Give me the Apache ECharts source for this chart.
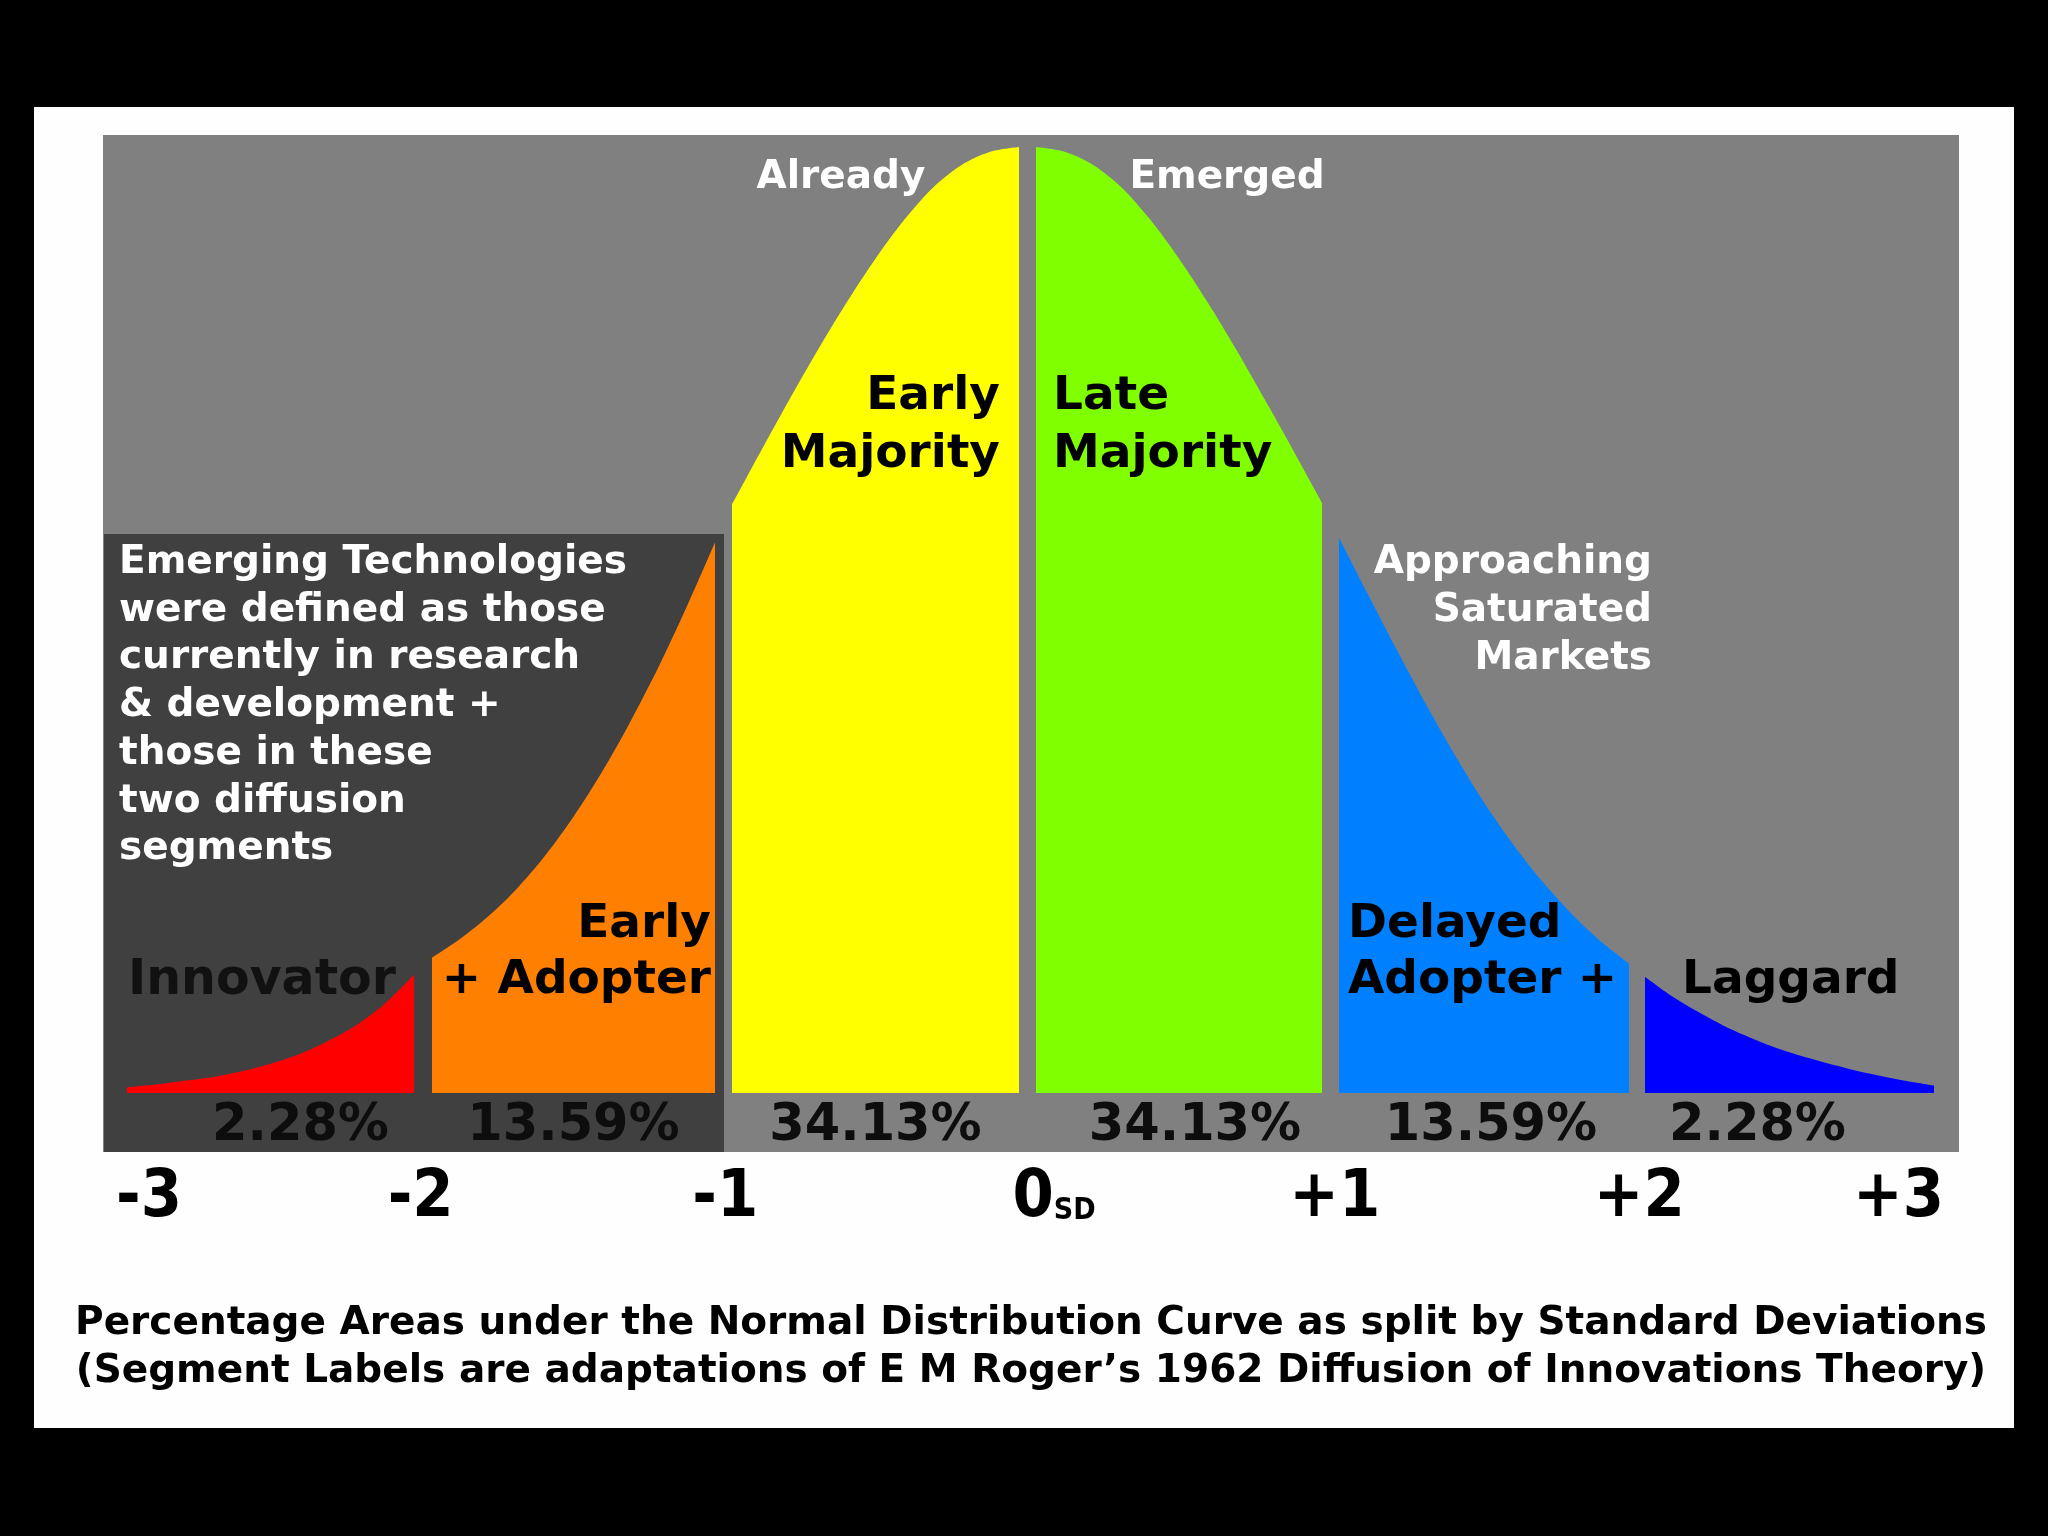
<!DOCTYPE html>
<html>
<head>
<meta charset="utf-8">
<title>Diffusion of Innovations - Normal Curve</title>
<script src="https://cdn.jsdelivr.net/npm/echarts@6/dist/echarts.min.js"></script>
<style>
  html, body { margin: 0; padding: 0; background: #000; }
  #chart { width: 2048px; height: 1536px; }
</style>
</head>
<body>
<div id="chart"></div>
<script>
  // standard deviation tick labels under the curve
  var tickLabels = ['-3', '-2', '-1', '0', '+1', '+2', '+3'];

  // curve height (relative to peak), [sd, height]
  var innovator = [[-3, 0.006], [-2.9, 0.009], [-2.8, 0.013], [-2.7, 0.017], [-2.6, 0.023], [-2.5, 0.031],
    [-2.4, 0.041], [-2.3, 0.055], [-2.2, 0.072], [-2.1, 0.095], [-2, 0.125]];
  var earlyAdopter = [[-2, 0.143], [-1.9, 0.163], [-1.8, 0.187], [-1.7, 0.216], [-1.6, 0.251], [-1.5, 0.292],
    [-1.4, 0.339], [-1.3, 0.392], [-1.2, 0.45], [-1.1, 0.514], [-1, 0.582]];
  var earlyMajority = [[-1, 0.622], [-0.9, 0.678], [-0.8, 0.733], [-0.7, 0.786], [-0.6, 0.836], [-0.5, 0.882],
    [-0.4, 0.923], [-0.3, 0.957], [-0.2, 0.981], [-0.1, 0.995], [0, 1]];
  var lateMajority = [[0, 1], [0.1, 0.995], [0.2, 0.981], [0.3, 0.957], [0.4, 0.923], [0.5, 0.882],
    [0.6, 0.836], [0.7, 0.786], [0.8, 0.733], [0.9, 0.679], [1, 0.624]];
  var delayedAdopter = [[1, 0.587], [1.1, 0.527], [1.2, 0.468], [1.3, 0.411], [1.4, 0.357], [1.5, 0.307],
    [1.6, 0.263], [1.7, 0.224], [1.8, 0.19], [1.9, 0.161], [2, 0.137]];
  var laggard = [[2, 0.123], [2.1, 0.101], [2.2, 0.083], [2.3, 0.067], [2.4, 0.054], [2.5, 0.043],
    [2.6, 0.034], [2.7, 0.026], [2.8, 0.019], [2.9, 0.013], [3, 0.008]];

  var percentages = ['2.28%', '13.59%', '34.13%', '34.13%', '13.59%', '2.28%'];

  var segments = [innovator, earlyAdopter, earlyMajority, lateMajority, delayedAdopter, laggard];
  var colors = ['#ff0000', '#ff8000', '#ffff00', '#80ff00', '#0080ff', '#0000ff'];

  // layout of each segment panel (px)
  var segLeft = [127, 432, 732, 1036, 1339, 1645];
  var segWidth = [287, 283, 287, 286, 290, 289];
  var pctPad = [[0, 0, 0, 60], 0, 0, [0, 0, 0, 32], [0, 0, 0, 14], [0, 64, 0, 0]];

  var font = 'DejaVu Sans, Verdana, sans-serif';
  var condFont = 'DejaVu Sans Condensed, DejaVu Sans, sans-serif';

  var chart = echarts.init(document.getElementById('chart'));

  var grids = [], xAxes = [], yAxes = [], series = [];
  segments.forEach(function (seg, i) {
    grids.push({left: segLeft[i], width: segWidth[i], top: 147, height: 946});
    xAxes.push({
      gridIndex: i, type: 'value', z: 20,
      min: seg[0][0], max: seg[seg.length - 1][0],
      axisLine: {show: false}, axisTick: {show: false},
      axisLabel: {show: false}, splitLine: {show: false},
      name: percentages[i], nameLocation: 'middle', nameGap: 8,
      nameTextStyle: {
        color: '#0d0d0d', fontFamily: font, fontWeight: 'bold', fontSize: 51,
        verticalAlign: 'top', padding: pctPad[i]
      }
    });
    yAxes.push({gridIndex: i, type: 'value', min: 0, max: 1, show: false});
    series.push({
      type: 'line', xAxisIndex: i, yAxisIndex: i, z: 5,
      data: seg, smooth: 0.3, symbol: 'none', silent: true,
      lineStyle: {width: 0},
      areaStyle: {color: colors[i], opacity: 1}
    });
  });

  // the sd scale underneath
  grids.push({left: 116, width: 1828, top: 135, height: 1017});
  xAxes.push({
    gridIndex: 6, type: 'value', min: -3, max: 3, interval: 1, z: 20,
    axisLine: {show: false}, axisTick: {show: false}, splitLine: {show: false},
    axisLabel: {
      margin: 14,
      alignMinLabel: 'left', alignMaxLabel: 'right',
      fontFamily: condFont, fontWeight: 'bold', fontSize: 66, color: '#000',
      formatter: function (v) {
        var t = tickLabels[Math.round(v) + 3];
        return v === 0 ? '{n|' + t + '}{s|SD}' : t;
      },
      rich: {
        n: {fontFamily: condFont, fontWeight: 'bold', fontSize: 66, color: '#000', padding: [0, 0, 0, 48], verticalAlign: 'bottom'},
        s: {fontFamily: condFont, fontWeight: 'bold', fontSize: 30, color: '#000', verticalAlign: 'bottom', padding: [0, 0, 6, 0]}
      }
    }
  });
  yAxes.push({gridIndex: 6, type: 'value', show: false});
  series.push({type: 'line', xAxisIndex: 6, yAxisIndex: 6, data: []});

  function txt(x, y, text, opts) {
    return {
      type: 'text', z: 50, x: x, y: y + 4,
      style: Object.assign({
        text: text, fill: '#000', fontFamily: font, fontWeight: 'bold', fontSize: 47,
        textAlign: 'left', textVerticalAlign: 'middle'
      }, opts || {})
    };
  }

  chart.setOption({
    backgroundColor: '#000',
    animation: false,
    title: {
      text: 'Percentage Areas under the Normal Distribution Curve as split by Standard Deviations\n(Segment Labels are adaptations of E M Roger\u2019s 1962 Diffusion of Innovations Theory)',
      left: 1026, top: 1295,
      textAlign: 'center',
      textStyle: {fontFamily: font, fontWeight: 'bold', fontSize: 39, lineHeight: 48, color: '#000'}
    },
    grid: grids,
    xAxis: xAxes,
    yAxis: yAxes,
    series: series,
    graphic: [
      {type: 'rect', z: 0, shape: {x: 34, y: 107, width: 1980, height: 1321}, style: {fill: '#fefefe'}},
      {type: 'rect', z: 1, shape: {x: 103, y: 135, width: 1856, height: 1017}, style: {fill: '#808080'}},
      {type: 'rect', z: 1, shape: {x: 104, y: 534, width: 620, height: 618}, style: {fill: '#404040'}},
      txt(841, 174, 'Already', {fill: '#fff', fontSize: 39, textAlign: 'center'}),
      txt(1227, 174, 'Emerged', {fill: '#fff', fontSize: 39, textAlign: 'center'}),
      txt(1000, 422, 'Early\nMajority', {textAlign: 'right', lineHeight: 58}),
      txt(1053, 422, 'Late\nMajority', {lineHeight: 58}),
      txt(119, 702, 'Emerging Technologies\nwere defined as those\ncurrently in research\n& development +\nthose in these\ntwo diffusion\nsegments',
        {fill: '#fff', fontSize: 39, lineHeight: 47.7}),
      txt(1652, 607, 'Approaching\nSaturated\nMarkets', {fill: '#fff', fontSize: 39, lineHeight: 47.7, textAlign: 'right'}),
      txt(128, 977, 'Innovator', {fill: '#111', fontSize: 49}),
      txt(711, 949, 'Early\n+ Adopter', {textAlign: 'right', lineHeight: 56}),
      txt(1348, 949, 'Delayed\nAdopter +', {lineHeight: 56}),
      txt(1682, 977, 'Laggard')
    ]
  });
</script>
</body>
</html>
